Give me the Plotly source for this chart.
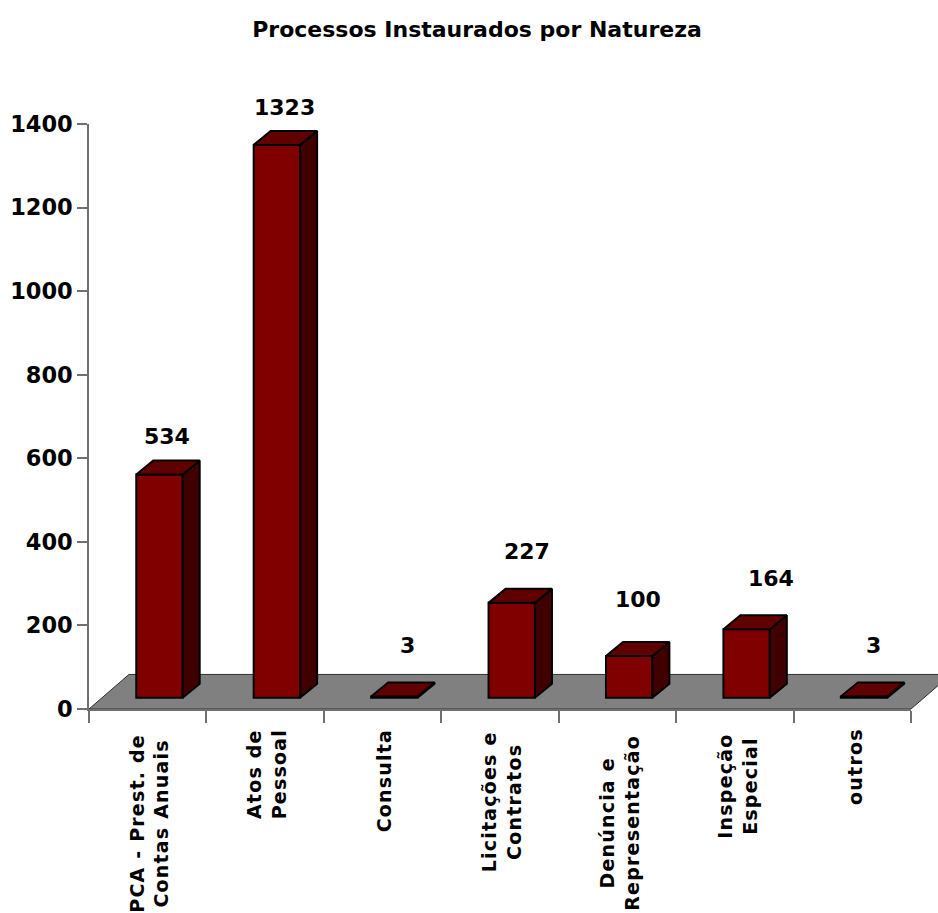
import plotly.graph_objects as go

categories = [
    "PCA - Prest. de<br>Contas Anuais",
    "Atos de<br>Pessoal",
    "Consulta",
    "Licitações e<br>Contratos",
    "Denúncia e<br>Representação",
    "Inspeção<br>Especial",
    "outros",
]
processos = [534, 1323, 3, 227, 100, 164, 3]
y_ticks = [0, 200, 400, 600, 800, 1000, 1200, 1400]

TITLE = "Processos Instaurados por Natureza"
FONT = "DejaVu Sans"

# Oblique projection, expressed in axis units
BAR_WIDTH = 0.395
BAR_SHIFT_X = 0.1      # bars stand inside the floor, not on its front edge
BAR_LIFT = 27
DEPTH_X = 0.145
DEPTH_Y = 33.5
FLOOR_X = 0.34
FLOOR_Y = 82.7
N = len(categories)

# The value axis occupies 822 of the 849 px right of its origin; the floor runs on to the page edge
PLOT_PX = 822
FULL_PX = 849

# Pixel nudges of the value labels from the bar's top-back edge
label_dx = [8, 8, 13, 15, 9, 24, 9]
label_dy = [24, 23, 37, 37, 42, 37, 37]
# Pixel offsets of each category label's middle from its slot on the axis
category_drop = [114, 65, 72, 93, 113.5, 77, 58]
category_dx = [1, 1, 1, 1, 2, 2, 3]

centres = [i + 0.5 + BAR_SHIFT_X for i in range(N)]

side_x, side_y, top_x, top_y = [], [], [], []
for c, v in zip(centres, processos):
    right = c + BAR_WIDTH / 2
    left = c - BAR_WIDTH / 2
    bottom = BAR_LIFT
    top = BAR_LIFT + v
    side_x += [right, right + DEPTH_X, right + DEPTH_X, right, right, None]
    side_y += [bottom, bottom + DEPTH_Y, top + DEPTH_Y, top, bottom, None]
    top_x += [left, left + DEPTH_X, right + DEPTH_X, right, left, None]
    top_y += [top, top + DEPTH_Y, top + DEPTH_Y, top, top, None]

fig = go.Figure()

# Grey floor of the 3D plot, on a hidden subplot drawn under the bars
fig.add_trace(go.Scatter(
    x=[0, FLOOR_X, N + FLOOR_X, N, 0],
    y=[0, FLOOR_Y, FLOOR_Y, 0, 0],
    mode="lines", fill="toself", fillcolor="#808080",
    line=dict(color="#303030", width=1), hoverinfo="skip",
))

fig.add_trace(go.Bar(
    x=centres, y=processos, base=BAR_LIFT, width=BAR_WIDTH,
    marker=dict(color="#800000", line=dict(color="#000000", width=2)),
    xaxis="x2", yaxis="y2",
))
fig.add_trace(go.Scatter(
    x=side_x, y=side_y, mode="lines", fill="toself", fillcolor="#400000",
    line=dict(color="#000000", width=2), xaxis="x2", yaxis="y2", hoverinfo="skip",
))
fig.add_trace(go.Scatter(
    x=top_x, y=top_y, mode="lines", fill="toself", fillcolor="#600000",
    line=dict(color="#000000", width=2), xaxis="x2", yaxis="y2", hoverinfo="skip",
))

annotations = []
for c, v, dx, dy in zip(centres, processos, label_dx, label_dy):
    annotations.append(dict(
        x=c, y=BAR_LIFT + v + DEPTH_Y, xref="x2", yref="y2", text=str(v), showarrow=False,
        xshift=dx, yshift=dy, yanchor="middle", xanchor="center",
        font=dict(family=FONT, size=22, color="#000000", weight="bold"),
    ))
for i, (name, drop, dx) in enumerate(zip(categories, category_drop, category_dx)):
    annotations.append(dict(
        x=i + 0.5, y=0, xref="x2", yref="y2", text=name, showarrow=False,
        textangle=-90, xanchor="center", yanchor="middle", yshift=-drop, xshift=dx, align="center",
        font=dict(family=FONT, size=19, color="#000000", weight="bold"),
    ))

axis_line = dict(showline=True, linecolor="#707070", linewidth=1.5, ticks="outside",
                 tickcolor="#707070", tickwidth=1.5, showgrid=False, zeroline=False)

fig.update_layout(
    width=938, height=913, autosize=False,
    margin=dict(l=89, r=0, t=124, b=204),
    paper_bgcolor="#ffffff", plot_bgcolor="rgba(0,0,0,0)",
    showlegend=False, barmode="overlay",
    title=dict(text=TITLE, x=477 / 938, y=1 - 29 / 913, xanchor="center", yanchor="middle",
               font=dict(family=FONT, size=22, color="#000000", weight="bold")),
    xaxis=dict(domain=[0, 1], range=[0, N * FULL_PX / PLOT_PX], visible=False, anchor="y"),
    yaxis=dict(domain=[0, 1], range=[0, 1400], visible=False, anchor="x"),
    xaxis2=dict(domain=[0, PLOT_PX / FULL_PX], range=[0, N], tickvals=list(range(N + 1)),
                ticktext=[""] * (N + 1), ticklen=12, anchor="y2", **axis_line),
    yaxis2=dict(domain=[0, 1], range=[0, 1400], tickvals=y_ticks, ticklen=10, ticklabelstandoff=0,
                anchor="x2",
                tickfont=dict(family=FONT, size=22.5, color="#000000", weight="bold"), **axis_line),
    annotations=annotations,
)

# Excel-style tracking on the rotated category labels
spacing = """
document.querySelectorAll('.annotation-text').forEach(function (t) {
  if (/[A-Za-z]/.test(t.textContent)) { t.style.letterSpacing = '1.2px'; }
});
"""
fig.write_html("out.html", post_script=spacing)
